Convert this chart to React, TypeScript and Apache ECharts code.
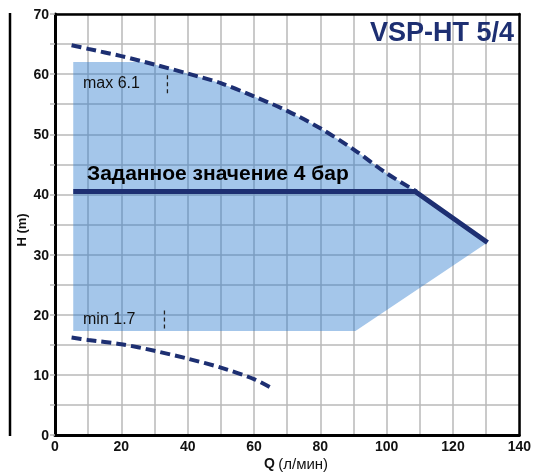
import React, { useEffect, useRef } from "react";
import * as echarts from "echarts";

// ---- data (x: Q л/мин, y: H m) ----
const maxCurve: [number, number][] = [
  [5, 64.8], [10, 64.2], [20, 63.0], [30, 61.6], [40, 60.1], [50, 58.5],
  [60, 56.3], [70, 53.9], [80, 51.0], [90, 47.5], [100, 43.5], [109, 40.5],
];
const minCurve: [number, number][] = [
  [5, 16.2], [10, 15.8], [20, 15.1], [30, 14.0], [40, 12.7], [50, 11.2],
  [60, 9.3], [65, 7.9],
];
const setLine: [number, number][] = [[5.5, 40.5], [108.6, 40.5], [130.4, 32.0]];
const regionPoints: [number, number][] = [
  [5.5, 17.3], [5.5, 62.0], [26, 62.0], [30, 61.6], [40, 60.1], [50, 58.5],
  [60, 56.3], [70, 53.9], [80, 51.0], [90, 47.5], [100, 43.5], [109, 40.5],
  [130.4, 32.0], [90.6, 17.3],
];
const maxMarker: [number, number][] = [[33.9, 59.8], [33.9, 56.8]];
const minMarker: [number, number][] = [[33.0, 20.7], [33.0, 17.7]];
const xTicks = [0, 140, 20];
const yTicks = [0, 70, 10];
const title = "VSP-HT 5/4";
const setLabel = "Заданное значение 4 бар";
const maxLabel = "max 6.1";
const minLabel = "min 1.7";

const NAVY = "#1d2f72";
const GRID = "#b9b9b9";
const FONT = "Liberation Sans, Arial, sans-serif";

export default function App() {
  const ref = useRef<HTMLDivElement>(null);
  useEffect(() => {
    if (!ref.current) return;
    const chart = echarts.init(ref.current, undefined, { renderer: "svg" });
    const gl = () => ({ show: true, lineStyle: { color: GRID, width: 1.5 } });
    const borderAxis = () => ({ show: true, onZero: false, lineStyle: { color: "#000", width: 2.5 } });
    chart.setOption({
      animation: false,
      grid: { left: 55, right: 13, top: 14, bottom: 37 },
      xAxis: [
        {
          type: "value", min: xTicks[0], max: xTicks[1], interval: xTicks[2],
          axisLine: { show: true, onZero: false, lineStyle: { color: "#000", width: 3 } },
          axisTick: { show: false },
          axisLabel: { color: "#111", fontFamily: FONT, fontWeight: "bold", fontSize: 14, margin: 4 },
          splitLine: gl(),
          minorTick: { show: false, splitNumber: 2 },
          minorSplitLine: gl(),
        },
        {
          type: "value", position: "top", min: xTicks[0], max: xTicks[1], interval: xTicks[2],
          axisLine: borderAxis(), axisTick: { show: false }, axisLabel: { show: false },
          splitLine: { show: false },
        },
      ],
      yAxis: [
        {
          type: "value", min: yTicks[0], max: yTicks[1], interval: yTicks[2],
          axisLine: { show: true, onZero: false, lineStyle: { color: "#000", width: 3 } },
          axisTick: { show: true, length: 5, lineStyle: { color: GRID, width: 1.5 } },
          minorTick: { show: true, splitNumber: 2, length: 5, lineStyle: { color: GRID, width: 1.5 } },
          axisLabel: { color: "#111", fontFamily: FONT, fontWeight: "bold", fontSize: 14, margin: 6 },
          splitLine: gl(),
          minorSplitLine: gl(),
        },
        {
          type: "value", position: "right", min: yTicks[0], max: yTicks[1], interval: yTicks[2],
          axisLine: borderAxis(), axisTick: { show: false }, axisLabel: { show: false },
          splitLine: { show: false },
        },
      ],
      series: [
        {
          type: "custom",
          data: [0],
          z: 1,
          renderItem: (params: any, api: any) => ({
            type: "polygon",
            shape: { points: regionPoints.map((p) => api.coord(p)) },
            style: { fill: "rgba(38,120,205,0.42)" },
          }),
        },
        {
          type: "line", data: maxCurve, smooth: 0.3, showSymbol: false, z: 3,
          lineStyle: { color: NAVY, width: 4, type: [10, 5] },
        },
        {
          type: "line", data: minCurve, smooth: 0.3, showSymbol: false, z: 3,
          lineStyle: { color: NAVY, width: 4, type: [10, 5] },
        },
        {
          type: "line", data: setLine, showSymbol: false, z: 4,
          lineStyle: { color: NAVY, width: 5 },
        },
        {
          type: "line", data: maxMarker, showSymbol: false, z: 4,
          lineStyle: { color: "#222", width: 1.3, type: [4, 3] },
        },
        {
          type: "line", data: minMarker, showSymbol: false, z: 4,
          lineStyle: { color: "#222", width: 1.3, type: [4, 3] },
        },
      ],
      graphic: [
        {
          type: "line", shape: { x1: 10, y1: 13, x2: 10, y2: 436 },
          style: { stroke: "#000", lineWidth: 2.5 },
        },
        {
          type: "text", x: 21, y: 230, rotation: Math.PI / 2,
          style: { text: "H (m)", fontFamily: FONT, fontWeight: "bold", fontSize: 13, fill: "#111", align: "center", verticalAlign: "middle" },
        },
        {
          type: "text", x: 264, y: 463,
          style: {
            text: "{b|Q} {r|(л/мин)}",
            rich: {
              b: { fontFamily: FONT, fontWeight: "bold", fontSize: 14, fill: "#111" },
              r: { fontFamily: FONT, fontSize: 15, fill: "#111" },
            },
            align: "left", verticalAlign: "middle",
          },
        },
        {
          type: "text", x: 514, y: 32, z: 10,
          style: { text: title, fontFamily: FONT, fontWeight: "bold", fontSize: 27, fill: NAVY, align: "right", verticalAlign: "middle" },
        },
        {
          type: "text", x: 87, y: 172, z: 10,
          style: { text: setLabel, fontFamily: FONT, fontWeight: "bold", fontSize: 21, fill: "#000", align: "left", verticalAlign: "middle" },
        },
        {
          type: "text", x: 83, y: 82, z: 10,
          style: { text: maxLabel, fontFamily: FONT, fontSize: 16, fill: "#111", align: "left", verticalAlign: "middle" },
        },
        {
          type: "text", x: 83, y: 318, z: 10,
          style: { text: minLabel, fontFamily: FONT, fontSize: 16, fill: "#111", align: "left", verticalAlign: "middle" },
        },
      ],
    });
    return () => chart.dispose();
  }, []);
  return <div ref={ref} style={{ position: "fixed", left: 0, top: 0, width: 534, height: 472 }} />;
}
